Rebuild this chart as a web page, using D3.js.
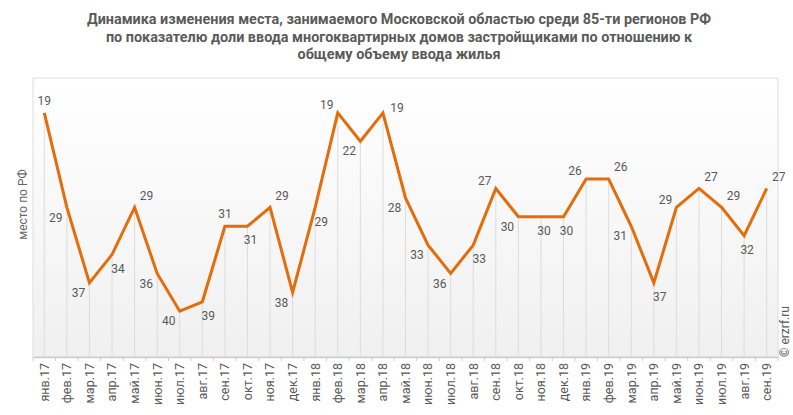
<!DOCTYPE html>
<html>
<head>
<meta charset="utf-8">
<script src="https://cdn.jsdelivr.net/npm/d3@7"></script>
<style>
  html, body { margin: 0; padding: 0; background: #fff; }
  svg { display: block; font-family: Roboto, "Noto Sans", sans-serif; }
</style>
</head>
<body>
<svg id="chart" width="793" height="415"></svg>
<script>
const months = ["янв.17","фев.17","мар.17","апр.17","май.17","июн.17","июл.17","авг.17","сен.17","окт.17","ноя.17","дек.17",
  "янв.18","фев.18","мар.18","апр.18","май.18","июн.18","июл.18","авг.18","сен.18","окт.18","ноя.18","дек.18",
  "янв.19","фев.19","мар.19","апр.19","май.19","июн.19","июл.19","авг.19","сен.19"];
const places = [19,29,37,34,29,36,40,39,31,31,29,38,
  29,19,22,19,28,33,36,33,27,30,30,30,
  26,26,31,37,29,27,29,32,27];
// where each value label sits relative to its point
const labelSide = ["n","sw","sw","se","ne","sw","sw","se","n","s","ne","sw",
  "se","nw","sw","e","sw","sw","sw","se","nw","sw","s","s",
  "nw","ne","sw","se","nw","ne","ne","s","ne"];
const titleLines = [
  "Динамика изменения места, занимаемого Московской областью среди 85-ти регионов РФ",
  "по показателю доли ввода многоквартирных домов застройщиками по отношению к",
  "общему объему ввода жилья"
];

const svg = d3.select("#chart");
const P = { left: 33, right: 778, top: 78, bottom: 357 };
const lineColor = "#e46c0a";
const textColor = "#595959";

const defs = svg.append("defs");
const grad = defs.append("linearGradient").attr("id", "bg").attr("x1", 0).attr("y1", 0).attr("x2", 0).attr("y2", 1);
grad.append("stop").attr("offset", "0%").attr("stop-color", "#ffffff");
grad.append("stop").attr("offset", "100%").attr("stop-color", "#f0f0f0");

svg.append("rect")
  .attr("x", P.left).attr("y", P.top)
  .attr("width", P.right - P.left).attr("height", P.bottom - P.top)
  .attr("fill", "url(#bg)")
  .attr("stroke", "#dddddd");

const x = d3.scaleBand().domain(months).range([P.left, P.right]).padding(0);
const cx = m => x(m) + x.bandwidth() / 2;
const y = d3.scaleLinear().domain([15.3, 44.85]).range([P.top, P.bottom]);

const data = months.map((m, i) => ({ m, v: places[i], side: labelSide[i] }));

// drop lines
svg.append("g").selectAll("line")
  .data(data)
  .join("line")
  .attr("x1", d => cx(d.m)).attr("x2", d => cx(d.m))
  .attr("y1", d => y(d.v)).attr("y2", P.bottom)
  .attr("stroke", "#dcdcdc")
  .attr("stroke-width", 1);

// x axis
const xAxis = svg.append("g")
  .attr("transform", `translate(0,${P.bottom})`)
  .call(d3.axisBottom(x).tickSize(0).tickPadding(0));
xAxis.select(".domain").attr("stroke", "#cccccc").attr("stroke-width", 1.5);
xAxis.selectAll(".tick text")
  .attr("transform", "rotate(-90)")
  .attr("text-anchor", "end")
  .attr("x", -6)
  .attr("y", 0)
  .attr("dy", "0.35em")
  .attr("fill", textColor)
  .style("font-size", "12.5px")
  .style("font-family", "Roboto, sans-serif");

// boundary ticks between months
svg.append("g").selectAll("line")
  .data(months.concat(["end"]))
  .join("line")
  .attr("x1", (d, i) => P.left + i * x.bandwidth())
  .attr("x2", (d, i) => P.left + i * x.bandwidth())
  .attr("y1", P.bottom).attr("y2", P.bottom + 4)
  .attr("stroke", "#cccccc");

// line
svg.append("path")
  .datum(data)
  .attr("fill", "none")
  .attr("stroke", lineColor)
  .attr("stroke-width", 3)
  .attr("stroke-linejoin", "miter")
  .attr("d", d3.line().x(d => cx(d.m)).y(d => y(d.v)));

// value labels
const off = {
  n: [0, -12], s: [3, 14], nw: [-11, -8], ne: [12, -12],
  e: [14, -5], sw: [-11, 10], se: [6, 14]
};
svg.append("g").selectAll("text")
  .data(data)
  .join("text")
  .attr("x", d => cx(d.m) + off[d.side][0])
  .attr("y", d => y(d.v) + off[d.side][1])
  .attr("dy", "0.35em")
  .attr("text-anchor", "middle")
  .attr("fill", textColor)
  .style("font-size", "12px")
  .text(d => d.v);

// title
svg.append("g").selectAll("text")
  .data(titleLines)
  .join("text")
  .attr("x", 399)
  .attr("y", (d, i) => 24 + i * 17.5)
  .attr("text-anchor", "middle")
  .attr("fill", "#5a5a5a")
  .style("font-size", "14.4px")
  .style("font-weight", "bold")
  .text(d => d);

// y axis label
svg.append("text")
  .attr("transform", `translate(27,${(P.top + P.bottom) / 2 - 13}) rotate(-90)`)
  .attr("text-anchor", "middle")
  .attr("fill", "#666")
  .style("font-size", "12px")
  .text("место по РФ");

// copyright
svg.append("text")
  .attr("transform", `translate(789,${P.bottom}) rotate(-90)`)
  .attr("text-anchor", "start")
  .attr("fill", textColor)
  .style("font-size", "12px")
  .text("© erzrf.ru");
</script>
</body>
</html>
